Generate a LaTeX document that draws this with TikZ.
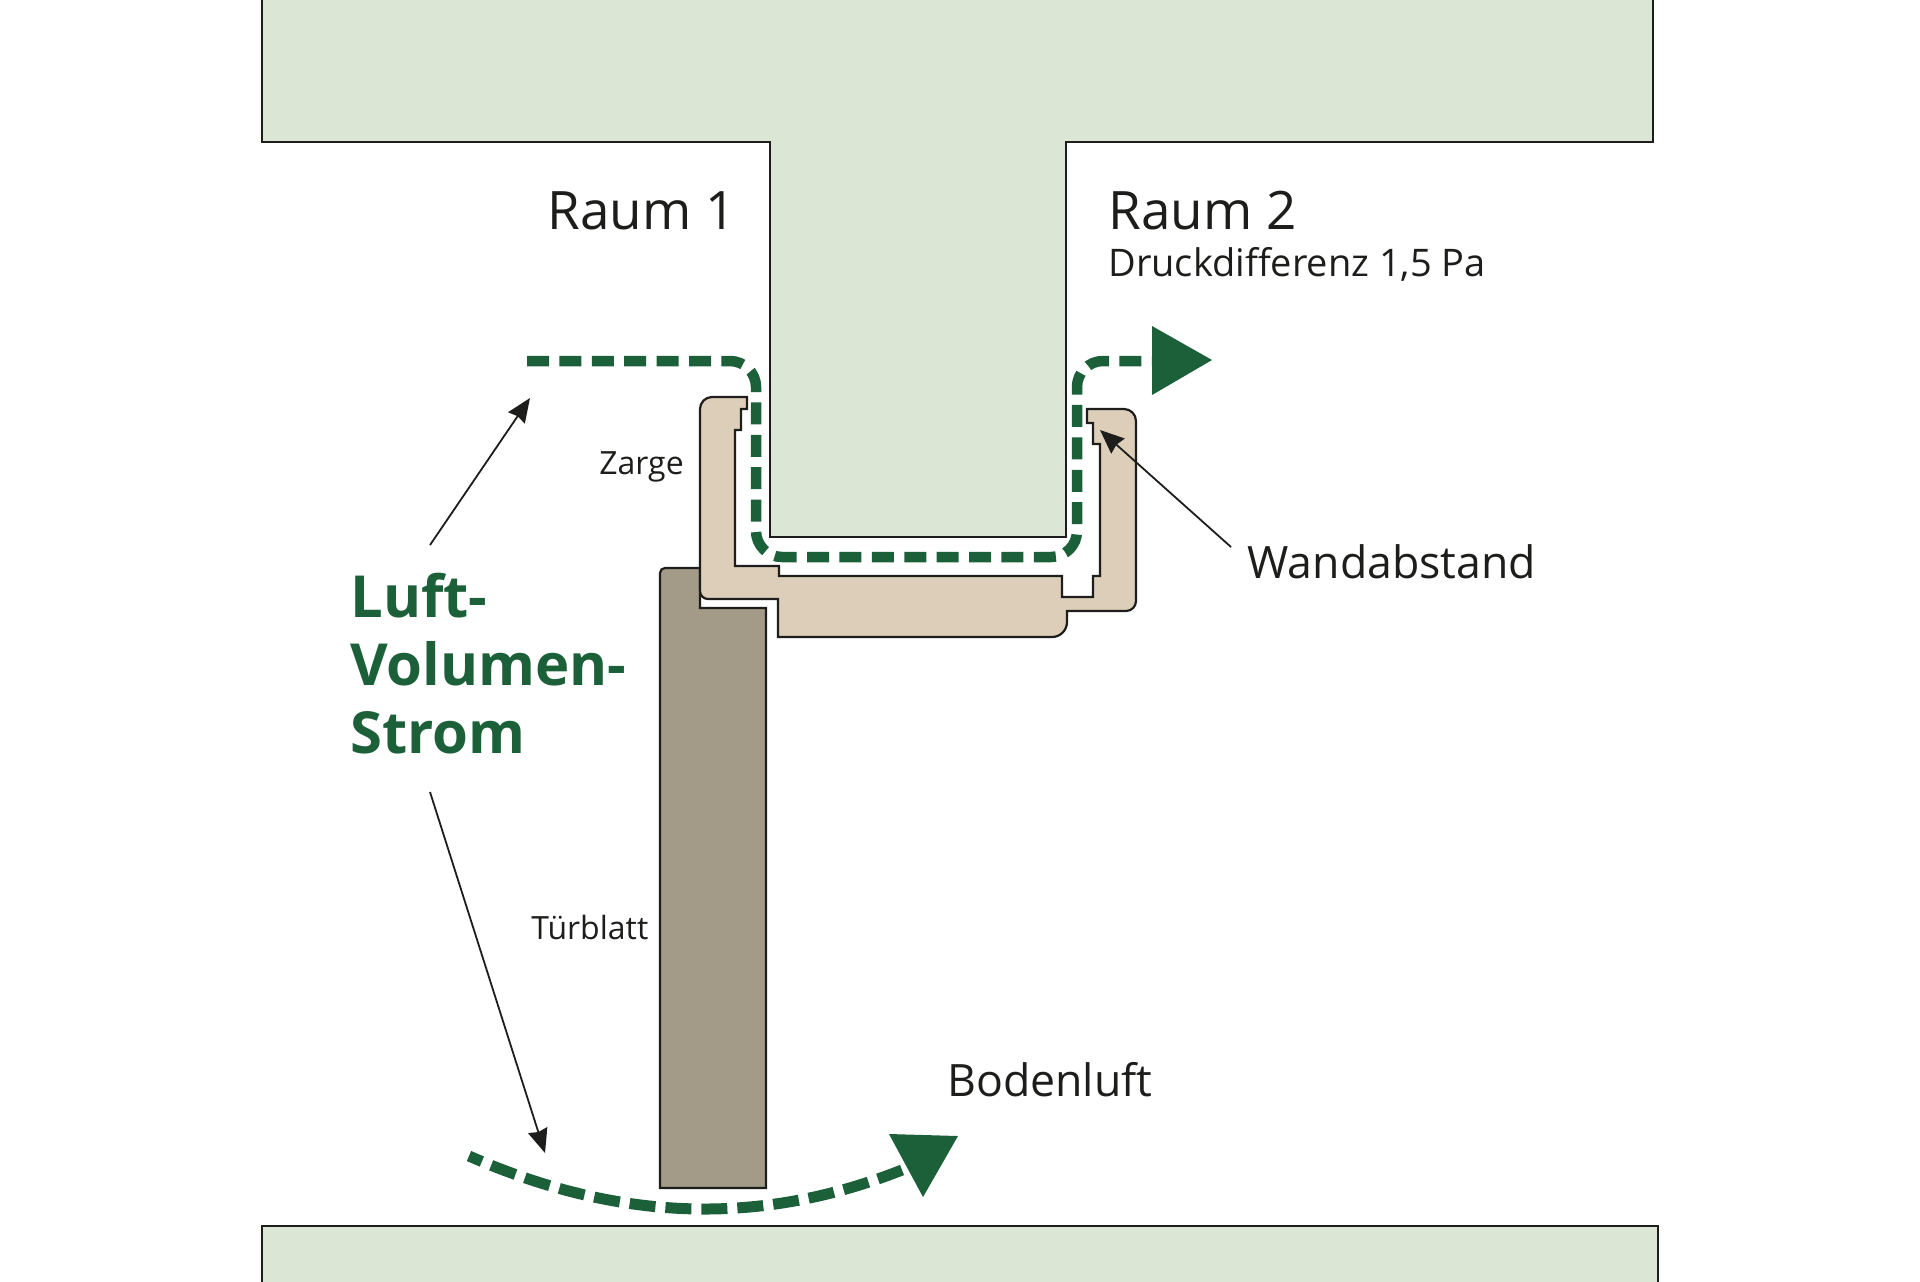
\documentclass[tikz,border=0pt]{standalone}
\usepackage{fontspec}
\setmainfont{Open Sans}
\usepackage{tikz}
\usetikzlibrary{arrows.meta}

\definecolor{wallgreen}{HTML}{DBE6D5}
\definecolor{flowgreen}{HTML}{1C6039}
\definecolor{framebeige}{HTML}{DCCEB8}
\definecolor{leafgrey}{HTML}{A39A87}
\definecolor{inkblack}{HTML}{1D1D1B}

\tikzset{
  solidpart/.style={draw=inkblack,line width=1.1pt,line join=miter},
  flowline/.style={draw=flowgreen,line width=5.25pt,dash pattern=on 11pt off 5.2pt},
  flowhead/.style={fill=flowgreen},
  pointer/.style={draw=inkblack,line width=0.9pt,-{Stealth[length=12pt,width=10pt,inset=1pt]}},
  roomtext/.style={anchor=base west,inner sep=0pt,text=inkblack,font=\fontsize{26.5}{26.5}\selectfont},
  smalltext/.style={anchor=base west,inner sep=0pt,text=inkblack,font=\fontsize{16}{16}\selectfont},
  midtext/.style={anchor=base west,inner sep=0pt,text=inkblack,font=\fontsize{22.3}{22.3}\selectfont},
  notetext/.style={anchor=base west,inner sep=0pt,text=inkblack,font=\fontsize{19}{19}\selectfont},
  flowtext/.style={anchor=base west,inner sep=0pt,text=flowgreen,font=\fontsize{29}{29}\selectfont\bfseries}
}

\begin{document}
\begin{tikzpicture}[x=0.5pt,y=-0.5pt]
\useasboundingbox (0,0) rectangle (1920,1281);

% walls
\filldraw[solidpart,fill=wallgreen] (262,-10) -- (262,142) -- (770,142) -- (770,537) -- (1066,537)
  -- (1066,142) -- (1653,142) -- (1653,-10) -- cycle;
\filldraw[solidpart,fill=wallgreen] (262,1291) -- (262,1226) -- (1658,1226) -- (1658,1291) -- cycle;

% door leaf
\filldraw[solidpart,fill=leafgrey] (700,568) [rounded corners=2.5pt] -- (660,568) [sharp corners]
  -- (660,1188) -- (766,1188) -- (766,608) -- (700,608) -- cycle;

% frame
\filldraw[solidpart,fill=framebeige] (747,397) -- (747,409) -- (741,409) -- (741,430) -- (735,430)
  -- (735,566) -- (779,566) -- (779,576) -- (1062,576) -- (1062,597) -- (1093,597) -- (1093,576) -- (1100,576)
  -- (1100,444) -- (1093,444) -- (1093,423) -- (1087,423) -- (1087,409)
  [rounded corners=6pt] -- (1136,409) [rounded corners=5pt] -- (1136,611) [sharp corners] -- (1067,611)
  [rounded corners=7.5pt] -- (1067,637) [sharp corners] -- (778,637) -- (778,599)
  [rounded corners=4pt] -- (700,599) [rounded corners=6pt] -- (700,397) [sharp corners] -- cycle;

% air flow
\coordinate (topstart) at (527,361);
\coordinate (topcorner) at (756,361);
\coordinate (gapleft) at (756,557);
\coordinate (gapright) at (1077,557);
\coordinate (exitcorner) at (1077,361);
\coordinate (topend) at (1156,361);
\coordinate (floorstart) at (469,1156);
\coordinate (floorend) at (902,1170);

\draw[flowline,rounded corners=13pt] (topstart) -- (topcorner) -- (gapleft) -- (gapright) -- (exitcorner) -- (topend);
\draw[flowline,dash pattern=on 13pt off 5pt,dash phase=6pt,line width=5.5pt] (floorstart)
  .. controls (620,1222) and (760,1226) .. (floorend);
\fill[flowhead] (1152,326) -- (1212,360) -- (1152,395) -- cycle;
\fill[flowhead] (889,1134) -- (958,1136) -- (923,1197) -- cycle;

% labels
\node[roomtext] (raum1) at (547,229) {Raum 1};
\node[roomtext] (raum2) at (1108,229) {Raum 2};
\node[notetext] (druck) at (1108,276) {Druckdifferenz 1,5 Pa};
\node[smalltext] (zarge) at (599,474) {Zarge};
\node[smalltext] (tuerblatt) at (531,939) {Türblatt};
\node[midtext] (wandabstand) at (1247,578) {Wandabstand};
\node[midtext] (bodenluft) at (947,1096) {Bodenluft};
\node[flowtext] (luft) at (350,617) {Luft-};
\node[flowtext] (volumen) at (350,685) {Volumen-};
\node[flowtext] (strom) at (350,753) {Strom};

% pointers
\coordinate (flowtop) at (530,398);
\coordinate (flowtopfrom) at (430,545);
\coordinate (flowbottom) at (545,1153);
\coordinate (flowbottomfrom) at (430,792);
\coordinate (gapmark) at (1100,430);
\coordinate (gapfrom) at (1231,547);
\draw[pointer] (flowtopfrom) -- (flowtop);
\draw[pointer] (flowbottomfrom) -- (flowbottom);
\draw[pointer] (gapfrom) -- (gapmark);

\end{tikzpicture}
\end{document}
